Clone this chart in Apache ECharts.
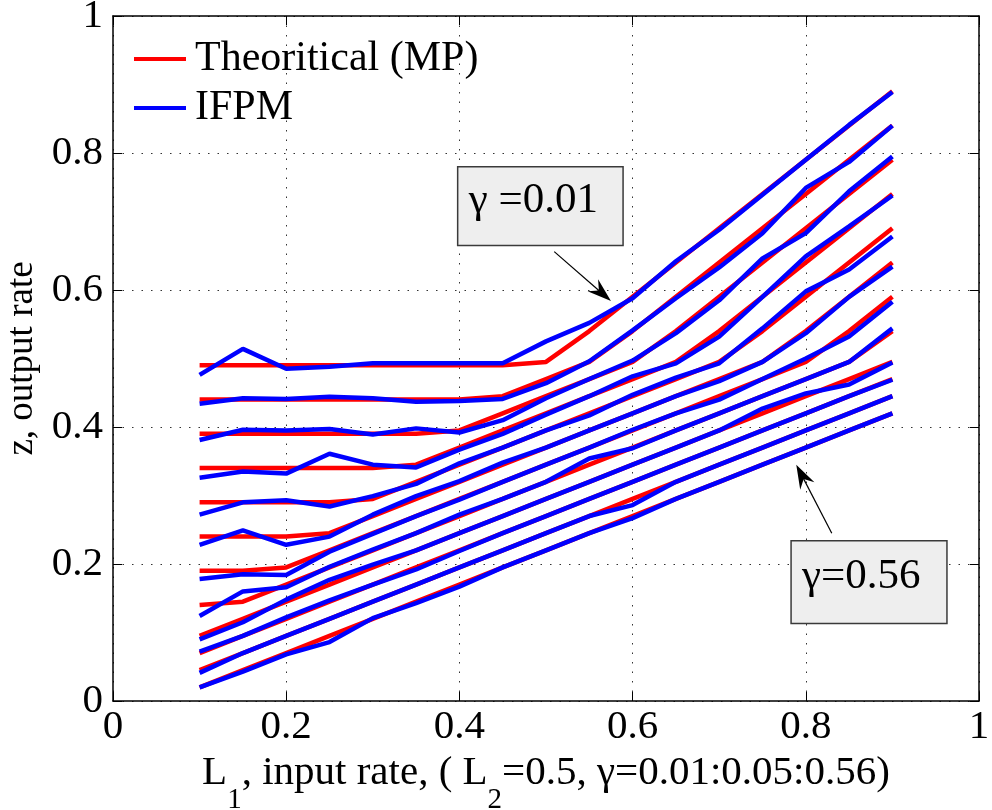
<!DOCTYPE html>
<html>
<head>
<meta charset="utf-8">
<script src="https://cdn.jsdelivr.net/npm/echarts@6/dist/echarts.min.js"></script>
<style>
html,body{margin:0;padding:0;background:#ffffff;}
#c{width:992px;height:810px;}
</style>
</head>
<body>
<div id="c"></div>
<script>
// ---- data -------------------------------------------------------------
const xValues = [0.1,0.15,0.2,0.25,0.3,0.35,0.4,0.45,0.5,0.55,0.6,0.65,0.7,0.75,0.8,0.85,0.9];
const xTicks = [0, 0.2, 0.4, 0.6, 0.8, 1];
const yTicks = [0, 0.2, 0.4, 0.6, 0.8, 1];
const gammaLabels = ['0.01','0.06','0.11','0.16','0.21','0.26','0.31','0.36','0.41','0.46','0.51','0.56'];

// Theoretical (MP), one list per gamma
const mp001 = [0.49,0.49,0.49,0.49,0.49,0.49,0.49,0.49,0.495,0.54,0.59,0.64,0.69,0.74,0.79,0.84,0.89];
const mp006 = [0.44,0.44,0.44,0.44,0.44,0.44,0.44,0.445,0.47,0.495,0.54,0.59,0.64,0.69,0.74,0.79,0.84];
const mp011 = [0.39,0.39,0.39,0.39,0.39,0.39,0.395,0.42,0.445,0.47,0.495,0.54,0.59,0.64,0.69,0.74,0.79];
const mp016 = [0.34,0.34,0.34,0.34,0.34,0.345,0.37,0.395,0.42,0.445,0.47,0.495,0.54,0.59,0.64,0.69,0.74];
const mp021 = [0.29,0.29,0.29,0.29,0.295,0.32,0.345,0.37,0.395,0.42,0.445,0.47,0.495,0.54,0.59,0.64,0.69];
const mp026 = [0.24,0.24,0.24,0.245,0.27,0.295,0.32,0.345,0.37,0.395,0.42,0.445,0.47,0.495,0.54,0.59,0.64];
const mp031 = [0.19,0.19,0.195,0.22,0.245,0.27,0.295,0.32,0.345,0.37,0.395,0.42,0.445,0.47,0.495,0.54,0.59];
const mp036 = [0.14,0.145,0.17,0.195,0.22,0.245,0.27,0.295,0.32,0.345,0.37,0.395,0.42,0.445,0.47,0.495,0.54];
const mp041 = [0.095,0.12,0.145,0.17,0.195,0.22,0.245,0.27,0.295,0.32,0.345,0.37,0.395,0.42,0.445,0.47,0.495];
const mp046 = [0.07,0.095,0.12,0.145,0.17,0.195,0.22,0.245,0.27,0.295,0.32,0.345,0.37,0.395,0.42,0.445,0.47];
const mp051 = [0.045,0.07,0.095,0.12,0.145,0.17,0.195,0.22,0.245,0.27,0.295,0.32,0.345,0.37,0.395,0.42,0.445];
const mp056 = [0.02,0.045,0.07,0.095,0.12,0.145,0.17,0.195,0.22,0.245,0.27,0.295,0.32,0.345,0.37,0.395,0.42];

// IFPM, one list per gamma
const ifpm001 = [0.476,0.514,0.485,0.488,0.493,0.493,0.493,0.493,0.525,0.552,0.588,0.642,0.688,0.739,0.790,0.841,0.889];
const ifpm006 = [0.434,0.442,0.441,0.444,0.442,0.437,0.438,0.441,0.464,0.496,0.541,0.588,0.633,0.683,0.749,0.787,0.840];
const ifpm011 = [0.381,0.396,0.395,0.397,0.389,0.398,0.392,0.410,0.442,0.470,0.497,0.537,0.585,0.646,0.683,0.744,0.795];
const ifpm016 = [0.326,0.335,0.332,0.361,0.345,0.341,0.367,0.390,0.418,0.445,0.474,0.493,0.532,0.590,0.649,0.693,0.738];
const ifpm021 = [0.272,0.290,0.293,0.284,0.299,0.317,0.347,0.370,0.395,0.417,0.447,0.472,0.493,0.544,0.598,0.630,0.678];
const ifpm026 = [0.228,0.249,0.228,0.240,0.272,0.299,0.321,0.348,0.370,0.395,0.420,0.445,0.467,0.495,0.537,0.590,0.634];
const ifpm031 = [0.178,0.185,0.184,0.218,0.244,0.270,0.294,0.320,0.345,0.370,0.396,0.420,0.440,0.470,0.500,0.532,0.583];
const ifpm036 = [0.124,0.160,0.166,0.196,0.221,0.245,0.272,0.295,0.320,0.354,0.369,0.395,0.420,0.445,0.470,0.495,0.544];
const ifpm041 = [0.090,0.115,0.148,0.177,0.199,0.220,0.245,0.270,0.295,0.320,0.345,0.370,0.395,0.427,0.449,0.462,0.494];
const ifpm046 = [0.072,0.095,0.122,0.147,0.170,0.192,0.219,0.245,0.270,0.295,0.320,0.345,0.370,0.395,0.420,0.445,0.469];
const ifpm051 = [0.041,0.070,0.095,0.120,0.145,0.170,0.195,0.220,0.245,0.270,0.286,0.320,0.345,0.370,0.395,0.420,0.445];
const ifpm056 = [0.020,0.043,0.068,0.086,0.121,0.143,0.167,0.195,0.220,0.245,0.267,0.295,0.320,0.345,0.370,0.395,0.420];

const theoreticalLines = [mp001,mp006,mp011,mp016,mp021,mp026,mp031,mp036,mp041,mp046,mp051,mp056];
const ifpmLines = [ifpm001,ifpm006,ifpm011,ifpm016,ifpm021,ifpm026,ifpm031,ifpm036,ifpm041,ifpm046,ifpm051,ifpm056];

// ---- chart ------------------------------------------------------------
const FONT = 'Liberation Serif';
const chart = echarts.init(document.getElementById('c'), null, {renderer: 'canvas'});
const pairs = ys => xValues.map((x, i) => [x, ys[i]]);
const tickFmt = v => (Math.abs(v) < 1e-9 ? '0' : Math.abs(v - 1) < 1e-9 ? '1' : v.toFixed(1));

const series = [];
theoreticalLines.forEach(ys => series.push({
  name: 'Theoritical (MP)', type: 'line', data: pairs(ys), symbol: 'none', silent: true,
  lineStyle: {color: '#ff0000', width: 4.5}, itemStyle: {color: '#ff0000'}, z: 2, animation: false
}));
ifpmLines.forEach(ys => series.push({
  name: 'IFPM', type: 'line', data: pairs(ys), symbol: 'none', silent: true,
  lineStyle: {color: '#0000ff', width: 4.5}, itemStyle: {color: '#0000ff'}, z: 3, animation: false
}));

const axisLineStyle = {color: '#000', width: 1.5};
const splitStyle = {color: '#333', type: [1.5, 8], width: 1};

const option = {
  animation: false,
  backgroundColor: '#ffffff',
  grid: {left: 113, right: 13, top: 16, bottom: 109, containLabel: false, outerBoundsMode: 'none', show: false},
  legend: {
    orient: 'vertical', left: 129, top: 31, icon: 'rect', itemWidth: 52, itemHeight: 4, itemGap: 3,
    data: ['Theoritical (MP)', 'IFPM'],
    textStyle: {fontFamily: FONT, fontSize: 42, color: '#000', lineHeight: 46, padding: [0, 0, 0, 4]},
    selectedMode: false
  },
  xAxis: [
    {
      type: 'value', min: xTicks[0], max: xTicks[xTicks.length - 1], interval: xTicks[1] - xTicks[0], position: 'bottom',
      axisLine: {show: true, onZero: false, lineStyle: axisLineStyle},
      axisTick: {show: true, inside: true, length: 9, lineStyle: {color: '#000', width: 1}},
      axisLabel: {fontFamily: FONT, fontSize: 41, color: '#000', margin: 6, formatter: tickFmt},
      splitLine: {show: true, lineStyle: splitStyle},
      name: '{a|L}{s|1}{a|, input rate, ( L}{s|2}{a|=0.5, γ=0.01:0.05:0.56)}',
      nameLocation: 'middle', nameGap: 48,
      nameTextStyle: {
        rich: {
          a: {fontFamily: FONT, fontSize: 41, color: '#000', lineHeight: 44, verticalAlign: 'top'},
          s: {fontFamily: FONT, fontSize: 29, color: '#000', lineHeight: 29, padding: [33, 0, 0, 0], verticalAlign: 'top'}
        }
      }
    },
    {
      type: 'value', min: 0, max: 1, interval: 0.2, position: 'top',
      axisLine: {show: true, onZero: false, lineStyle: axisLineStyle},
      axisTick: {show: true, inside: true, length: 9, lineStyle: {color: '#000', width: 1}},
      axisLabel: {show: false}, splitLine: {show: false}
    }
  ],
  yAxis: [
    {
      type: 'value', min: yTicks[0], max: yTicks[yTicks.length - 1], interval: yTicks[1] - yTicks[0], position: 'left',
      axisLine: {show: true, onZero: false, lineStyle: axisLineStyle},
      axisTick: {show: true, inside: true, length: 9, lineStyle: {color: '#000', width: 1}},
      axisLabel: {fontFamily: FONT, fontSize: 41, color: '#000', margin: 10, formatter: tickFmt},
      splitLine: {show: true, lineStyle: splitStyle},
      name: 'z, output rate', nameLocation: 'middle', nameGap: 58, nameRotate: 90,
      nameTextStyle: {fontFamily: FONT, fontSize: 37, color: '#000'}
    },
    {
      type: 'value', min: 0, max: 1, interval: 0.2, position: 'right',
      axisLine: {show: true, onZero: false, lineStyle: axisLineStyle},
      axisTick: {show: true, inside: true, length: 9, lineStyle: {color: '#000', width: 1}},
      axisLabel: {show: false}, splitLine: {show: false}
    }
  ],
  series: series
};
chart.setOption(option);

// ---- annotations (boxes + arrows anchored in data coordinates) ----------
const annotations = [
  {text: 'γ =' + gammaLabels[0], box: [0.398, 0.780, 0.589, 0.665], from: [0.5095, 0.656], to: [0.575, 0.584]},
  {text: 'γ=' + gammaLabels[gammaLabels.length - 1], box: [0.783, 0.234, 0.963, 0.113], from: [0.830, 0.245], to: [0.789, 0.345]}
];
function px(p) { return chart.convertToPixel({xAxisIndex: 0, yAxisIndex: 0}, p); }
const elements = [];
annotations.forEach(a => {
  const p1 = px([a.box[0], a.box[1]]);
  const p2 = px([a.box[2], a.box[3]]);
  const x = Math.min(p1[0], p2[0]), y = Math.min(p1[1], p2[1]);
  const w = Math.abs(p2[0] - p1[0]), h = Math.abs(p2[1] - p1[1]);
  elements.push({type: 'rect', shape: {x: x, y: y, width: w, height: h}, style: {fill: '#eeeeee', stroke: '#3a3a3a', lineWidth: 1.5}, z: 100});
  elements.push({type: 'text', x: x + 11, y: y + h / 2 - 5, style: {text: a.text, font: '43px "Liberation Serif"', fill: '#000', textAlign: 'left', textVerticalAlign: 'middle'}, z: 101});
  const A = px(a.from), B = px(a.to);
  const dx = B[0] - A[0], dy = B[1] - A[1];
  const len = Math.sqrt(dx * dx + dy * dy);
  const ux = dx / len, uy = dy / len, nx = -uy, ny = ux;
  const L = 24, W = 8, notch = 16;
  const back = [B[0] - ux * L, B[1] - uy * L];
  const mid = [B[0] - ux * notch, B[1] - uy * notch];
  elements.push({type: 'line', shape: {x1: A[0], y1: A[1], x2: mid[0], y2: mid[1]}, style: {stroke: '#000', lineWidth: 1.2}, z: 100});
  elements.push({type: 'polygon', shape: {points: [B, [back[0] + nx * W, back[1] + ny * W], mid, [back[0] - nx * W, back[1] - ny * W]]}, style: {fill: '#000'}, z: 100});
});
chart.setOption({graphic: elements});
</script>
</body>
</html>
